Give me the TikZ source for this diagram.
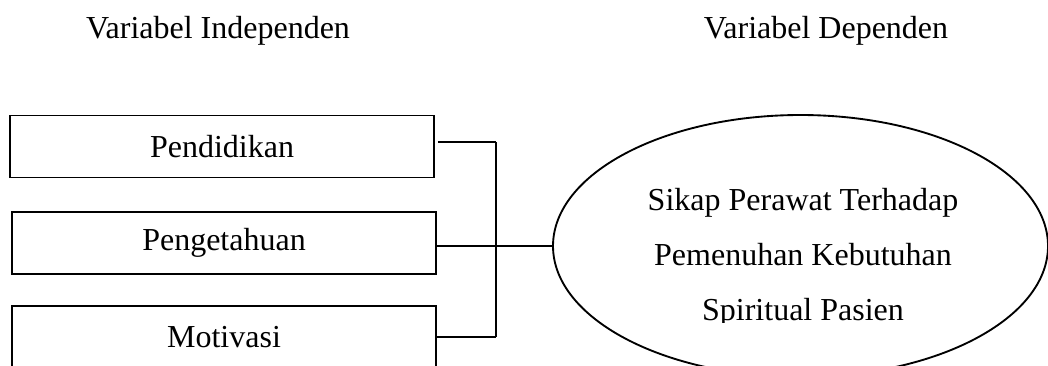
\documentclass[tikz,border=0pt]{standalone}
\usepackage{fontspec}
\setmainfont{Liberation Serif}
\usetikzlibrary{shapes.geometric}
\begin{document}
\begin{tikzpicture}[x=0.75pt,y=-0.75pt,
  every node/.style={font=\fontsize{24}{41.25}\selectfont},
  varbox/.style={draw,line width=1.4pt,minimum width=318pt,minimum height=46.5pt,inner sep=0pt},
  conn/.style={line width=1.4pt},
  header/.style={anchor=base,inner sep=0pt}]
\useasboundingbox (0,0) rectangle (1048,365);
\clip (0,0) rectangle (1048,365);
\node[header] (h1) at (218,38) {Variabel Independen};
\node[header] (h2) at (826,38) {Variabel Dependen};
\node[varbox] (b1) at (222,146.5) {Pendidikan};
\node[varbox] (b2) at (224,243) {Pengetahuan};
\node[varbox] (b3) at (224,337) {Motivasi};
\node[draw,ellipse,line width=1.4pt,minimum width=371.25pt,minimum height=196.5pt,inner sep=0pt] (ell) at (800.5,246) {};
\begin{scope}
\clip (0,0) rectangle (1048,322);
\node[align=center,inner sep=0pt] (elltxt) at (803,257.5) {Sikap Perawat Terhadap\\Pemenuhan Kebutuhan\\Spiritual Pasien};
\end{scope}
\coordinate (jt) at (496,142);
\coordinate (jm) at (496,246);
\coordinate (jb) at (496,337);
\draw[conn] ([xshift=2.25pt,yshift=3.375pt]b1.east) -- (jt);
\draw[conn] ([yshift=-2.25pt]b2.east) -- (jm);
\draw[conn] (b3.east) -- (jb);
\draw[conn] (jt) -- (jb);
\draw[conn] (jm) -- (ell.west);
\end{tikzpicture}
\end{document}
